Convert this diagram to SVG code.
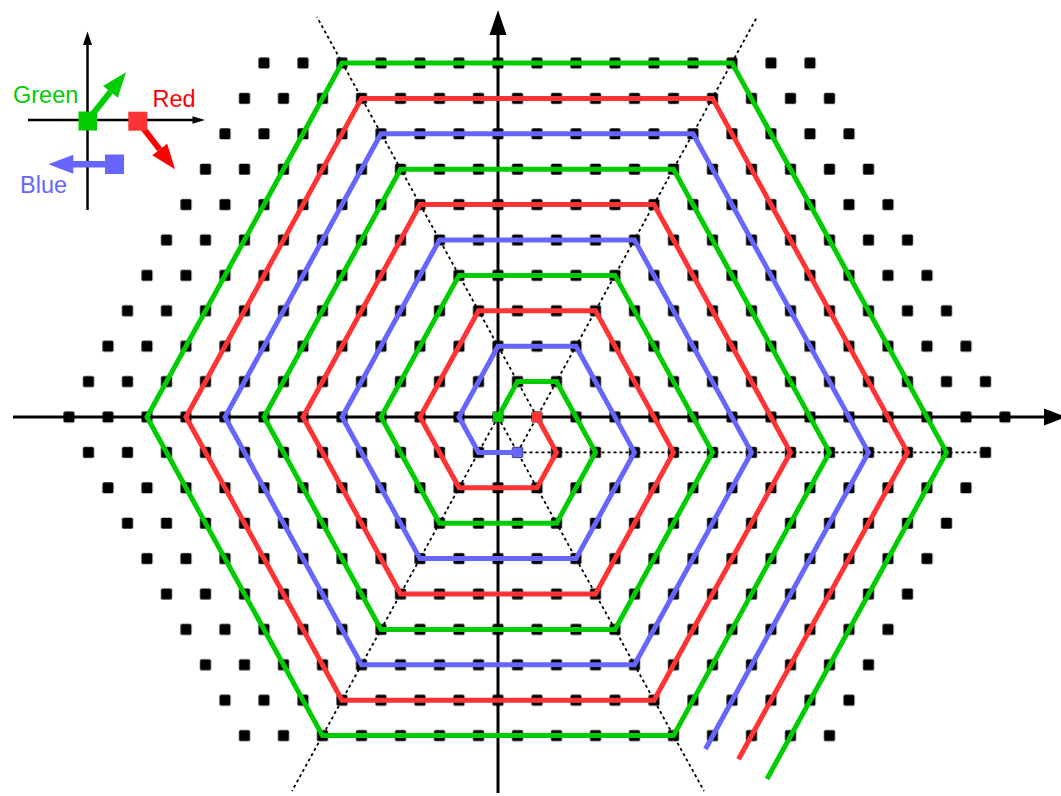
<svg xmlns="http://www.w3.org/2000/svg" width="1061" height="796" viewBox="0 0 1061 796">
<defs>
<style>
.ax{stroke:#000;stroke-width:3;fill:none}
.lax{stroke:#000;stroke-width:2.5;fill:none}
.guide{stroke:#000;stroke-width:1.8;stroke-dasharray:3 3;fill:none}
.sp{fill:none;stroke-width:5;stroke-linejoin:miter}
.g{stroke:#00cc00}.r{stroke:#ff3333}.b{stroke:#6666ff}
.lbl{font-family:"Liberation Sans",Arial,sans-serif;font-size:23.5px}
</style>
<pattern id="lat" patternUnits="userSpaceOnUse" x="488.25" y="399.3" width="39" height="70.8">
<rect x="4.25" y="12.2" width="11" height="11" rx="1.5" fill="#000"/>
<rect x="23.75" y="47.6" width="11" height="11" rx="1.5" fill="#000"/>
</pattern>
</defs>
<rect width="1061" height="796" fill="#fff"/>
<g id="axes">
<line class="ax" x1="13" y1="417" x2="1046" y2="417"/>
<polygon points="1044,408.5 1066,417 1044,425.5" fill="#000"/>
<line class="ax" x1="498" y1="793" x2="498" y2="33"/>
<polygon points="489.5,35 498,10 506.5,35" fill="#000"/>
</g>
<g id="lattice">
<polygon points="49.5,417 254.8,44.3 819.2,44.3 1024.5,417 839.2,753.3 234.8,753.3" fill="url(#lat)"/>
</g>
<g id="guides">
<line class="guide" x1="537" y1="417" x2="317" y2="17"/>
<line class="guide" x1="517.5" y1="452.4" x2="757" y2="17"/>
<line class="guide" x1="517.5" y1="452.4" x2="980" y2="452.4"/>
<line class="guide" x1="498" y1="417" x2="704" y2="791"/>
<line class="guide" x1="498" y1="417" x2="292" y2="791"/>
</g>
<g id="spirals">
<path id="green-spiral" class="sp g" d="M498,417 L517.5,381.6 L556.5,381.6 L595.5,452.4 L556.5,523.2 L439.5,523.2 L381,417 L459,275.4 L615,275.4 L712.5,452.4 L615,629.4 L381,629.4 L264,417 L400.5,169.2 L673.5,169.2 L829.5,452.4 L673.5,735.6 L322.5,735.6 L147,417 L342,63 L732,63 L946.5,452.4 L767,779"/>
<path id="red-spiral" class="sp r" d="M537,417 L556.5,452.4 L537,487.8 L459,487.8 L420,417 L478.5,310.8 L595.5,310.8 L673.5,452.4 L595.5,594 L400.5,594 L303,417 L420,204.6 L654,204.6 L790.5,452.4 L654,700.2 L342,700.2 L186,417 L361.5,98.4 L712.5,98.4 L907.5,452.4 L738.5,759.3"/>
<path id="blue-spiral" class="sp b" d="M517.5,452.4 L478.5,452.4 L459,417 L498,346.2 L576,346.2 L634.5,452.4 L576,558.6 L420,558.6 L342,417 L439.5,240 L634.5,240 L751.5,452.4 L634.5,664.8 L361.5,664.8 L225,417 L381,133.8 L693,133.8 L868.5,452.4 L705.5,749"/>
</g>
<g id="starts">
<rect x="493" y="412" width="10" height="10" fill="#00cc00"/>
<rect x="532" y="412" width="10" height="10" fill="#ff3333"/>
<rect x="512.5" y="447.4" width="10" height="10" fill="#6666ff"/>
</g>
<g id="legend">
<line class="lax" x1="87.5" y1="210" x2="87.5" y2="44"/>
<polygon points="83,45 87.5,31.5 92,45" fill="#000"/>
<line class="lax" x1="28" y1="120" x2="194" y2="120"/>
<polygon points="192.5,116.3 205,120 192.5,123.7" fill="#000"/>
<g id="legend-green">
<line x1="87.5" y1="120.7" x2="110.4" y2="91.9" stroke="#00cc00" stroke-width="6"/>
<polygon points="126,72.3 117.8,97.8 103,86" fill="#00cc00"/>
<rect x="78.5" y="111.5" width="18.5" height="19" fill="#00cc00"/>
<text class="lbl" x="13" y="103" fill="#00cc00">Green</text>
</g>
<g id="legend-red">
<line x1="137.8" y1="121.2" x2="159.7" y2="149.5" stroke="#ff0000" stroke-width="6"/>
<polygon points="175,169.3 167.2,143.7 152.2,155.3" fill="#ff0000"/>
<rect x="128.3" y="111.7" width="19" height="19" fill="#ff3333"/>
<text class="lbl" x="152.5" y="107" fill="#ff0000">Red</text>
</g>
<g id="legend-blue">
<line x1="114.5" y1="164.2" x2="72" y2="164.2" stroke="#6666ff" stroke-width="6.5"/>
<polygon points="73.3,154.7 48.3,164.2 73.3,173.7" fill="#6666ff"/>
<rect x="105" y="154.5" width="19" height="19.5" fill="#6666ff"/>
<text class="lbl" x="20" y="193" fill="#6666ff">Blue</text>
</g>
</g>
</svg>
